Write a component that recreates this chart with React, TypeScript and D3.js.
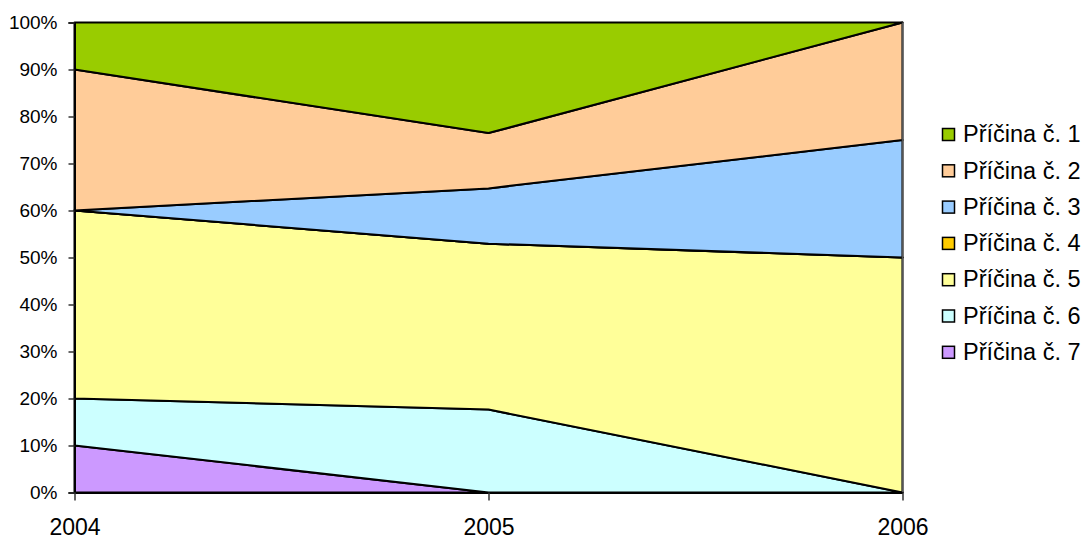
import React, { useEffect, useRef } from 'react';
import * as d3 from 'd3';

const years = ['2004', '2005', '2006'];
const causes = ['Příčina č. 1', 'Příčina č. 2', 'Příčina č. 3', 'Příčina č. 4', 'Příčina č. 5', 'Příčina č. 6', 'Příčina č. 7'];
// counts per year, one array per cause
const cause1 = [1, 4, 0];
const cause2 = [3, 2, 1];
const cause3 = [0, 2, 1];
const cause4 = [0, 0, 0];
const cause5 = [4, 6, 2];
const cause6 = [1, 3, 0];
const cause7 = [1, 0, 0];
const colors = ['#99cc00', '#ffcc99', '#99ccff', '#ffcc00', '#ffff99', '#ccffff', '#cc99ff'];
const yTicks = [0, 0.1, 0.2, 0.3, 0.4, 0.5, 0.6, 0.7, 0.8, 0.9, 1];

const App = () => {
  const svgRef = useRef<SVGSVGElement>(null);

  useEffect(() => {
    const width = 1089;
    const height = 539;
    const left = 74.5, right = 902.5, top = 22.5, bottom = 492.5;

    const svg = d3.select(svgRef.current).attr('width', width).attr('height', height);
    svg.selectAll('*').remove();

    const series = [cause1, cause2, cause3, cause4, cause5, cause6, cause7];
    const rows = years.map((y, i) => {
      const row: any = { year: y };
      const total = d3.sum(series, s => s[i]);
      causes.forEach((c, k) => { row[c] = series[k][i] / total; });
      return row;
    });

    // bottom of stack is cause 7
    const keys = causes.slice().reverse();
    const stacked = d3.stack().keys(keys)(rows);

    const x = d3.scalePoint().domain(years).range([left, right]);
    const y = d3.scaleLinear().domain([0, 1]).range([bottom, top]);

    const area = d3.area<any>()
      .x(d => x(d.data.year) as number)
      .y0(d => y(d[0]))
      .y1(d => y(d[1]));

    svg.append('g')
      .selectAll('path')
      .data(stacked)
      .enter()
      .append('path')
      .attr('d', area)
      .attr('fill', d => colors[causes.indexOf(d.key)])
      .attr('stroke', '#000')
      .attr('stroke-width', 2)
      .attr('stroke-linejoin', 'round');

    // right edge drawn lighter, as in the original
    svg.append('line')
      .attr('x1', right).attr('x2', right)
      .attr('y1', top).attr('y2', bottom)
      .attr('stroke', '#555')
      .attr('stroke-width', 1.5);

    // y axis
    const yAxis = svg.append('g').attr('transform', `translate(${left},0)`)
      .call(d3.axisLeft(y).tickValues(yTicks).tickFormat(d3.format('.0%')).tickSize(6).tickPadding(11));
    yAxis.select('.domain').attr('stroke', '#000').attr('stroke-width', 2);
    yAxis.selectAll('.tick line').attr('stroke', '#333').attr('stroke-width', 1.5);
    yAxis.selectAll('text')
      .attr('font-family', 'Arial, "Liberation Sans", sans-serif')
      .attr('font-size', 19)
      .attr('fill', '#000');

    // x axis
    const xAxis = svg.append('g').attr('transform', `translate(0,${bottom})`)
      .call(d3.axisBottom(x).tickSize(8).tickPadding(18).tickSizeOuter(0));
    xAxis.select('.domain').attr('stroke', '#000').attr('stroke-width', 2);
    xAxis.selectAll('.tick line').attr('stroke', '#333').attr('stroke-width', 1.5);
    xAxis.selectAll('text')
      .attr('font-family', 'Arial, "Liberation Sans", sans-serif')
      .attr('font-size', 23)
      .attr('fill', '#000');

    // legend
    const legend = svg.append('g');
    const item = legend.selectAll('g')
      .data(causes)
      .enter()
      .append('g')
      .attr('transform', (d, i) => `translate(942,${135 + i * 36.3})`);
    item.append('rect')
      .attr('x', 0.5).attr('y', -6.5)
      .attr('width', 12).attr('height', 12)
      .attr('fill', (d, i) => colors[i])
      .attr('stroke', '#000')
      .attr('stroke-width', 1.5);
    item.append('text')
      .attr('x', 21)
      .attr('y', -1)
      .attr('dy', '0.35em')
      .attr('font-family', 'Arial, "Liberation Sans", sans-serif')
      .attr('font-size', 23.5)
      .attr('fill', '#000')
      .text(d => d);
  }, []);

  return (
    <svg ref={svgRef} style={{ position: 'absolute', left: 0, top: 0, background: '#fff' }}></svg>
  );
};

export default App;
